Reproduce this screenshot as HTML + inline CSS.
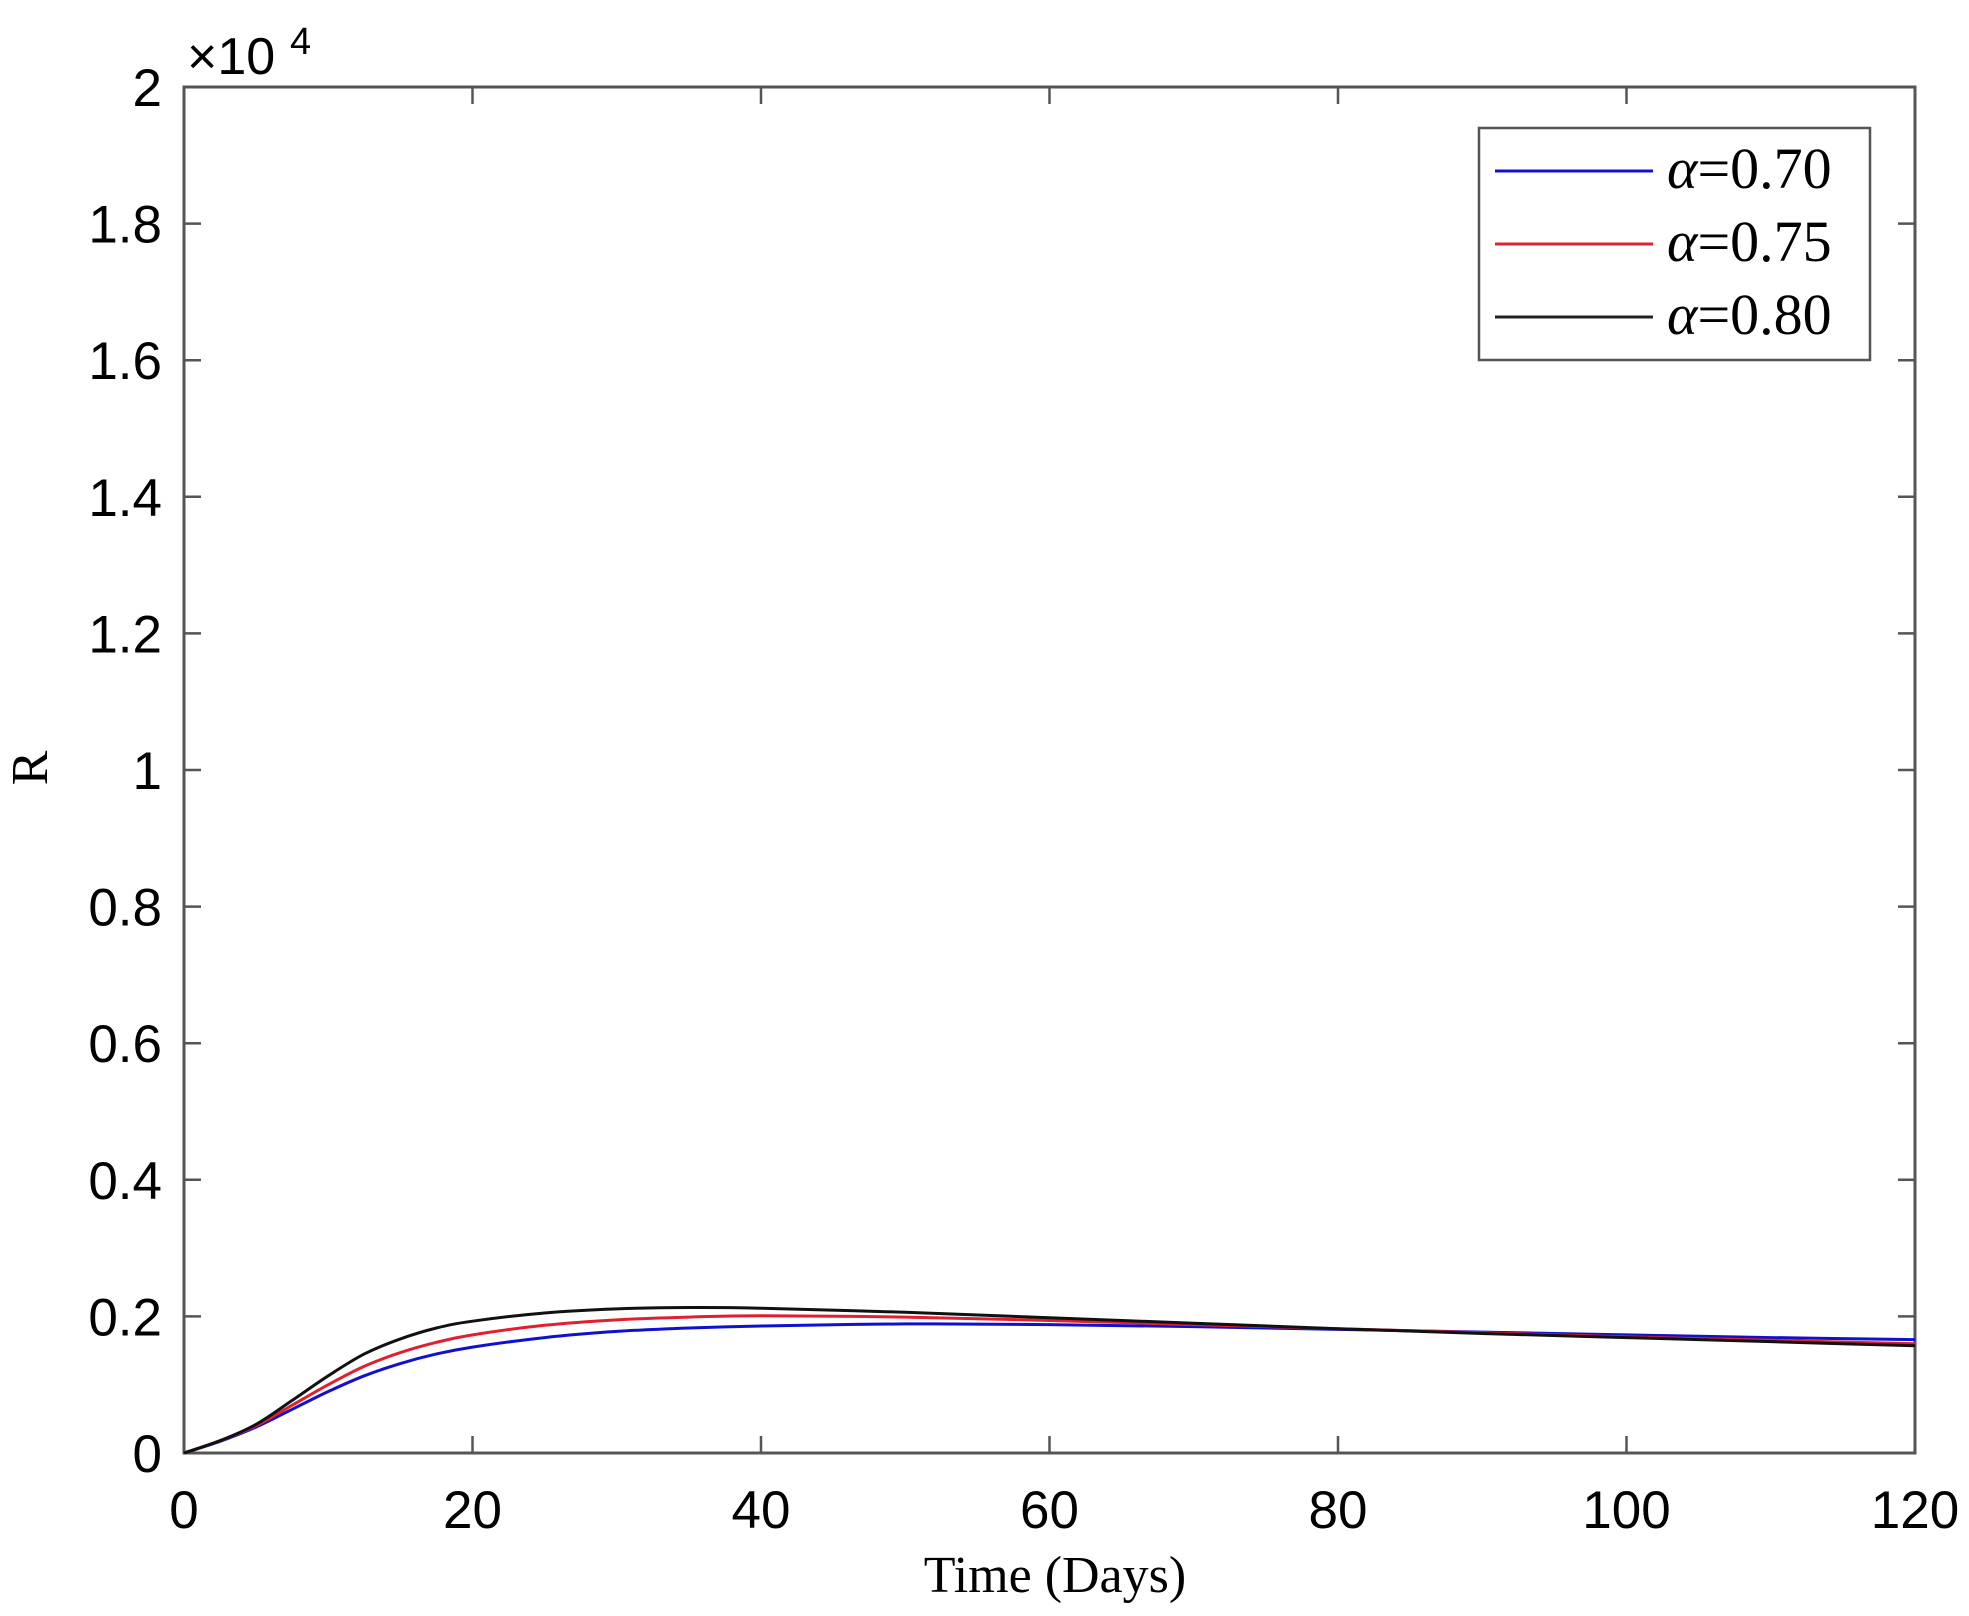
<!DOCTYPE html>
<html><head><meta charset="utf-8"><style>
html,body{margin:0;padding:0;background:#fff;width:1969px;height:1616px;overflow:hidden}
svg text{font-family:"Liberation Sans",Arial,sans-serif}
svg text.serif{font-family:"Liberation Serif","DejaVu Serif",serif}
</style></head><body>
<svg id="s" width="1969" height="1616" xmlns="http://www.w3.org/2000/svg">
<g id="ticks" stroke="#555" stroke-width="2.5"></g>
<rect x="184" y="87" width="1731" height="1366" fill="none" stroke="#555" stroke-width="3"/>
<g id="labels" font-size="53" fill="#000"></g>
<text x="187" y="74" font-size="52">×10</text>
<text x="290" y="54" font-size="38">4</text>
<text class="serif" x="1055" y="1592" font-size="52" text-anchor="middle">Time (Days)</text>
<text class="serif" x="0" y="0" font-size="52" text-anchor="middle" transform="translate(47,768) rotate(-90)">R</text>
<g id="curves" fill="none" stroke-width="3"></g>
<rect x="1479" y="128" width="391" height="232" fill="#fff" stroke="#555" stroke-width="2.5"/>
<line x1="1495" y1="171" x2="1653" y2="171" stroke="#1010d0" stroke-width="3"/>
<line x1="1495" y1="244" x2="1653" y2="244" stroke="#e02030" stroke-width="3"/>
<line x1="1495" y1="317" x2="1653" y2="317" stroke="#222" stroke-width="3"/>
<g font-size="58" fill="#000">
<text class="serif" x="1667" y="188"><tspan font-style="italic">α</tspan>=0.70</text>
<text class="serif" x="1667" y="261"><tspan font-style="italic">α</tspan>=0.75</text>
<text class="serif" x="1667" y="334"><tspan font-style="italic">α</tspan>=0.80</text>
</g>
</svg>
<script>
const L=184,R=1915,T=87,B=1453;
const X=t=>L+(R-L)*t/120, Y=v=>B-(B-T)*v/2;
const ns="http://www.w3.org/2000/svg";
const tk=document.getElementById('ticks'), lb=document.getElementById('labels');
function el(p,n,a,txt){const e=document.createElementNS(ns,n);for(const k in a)e.setAttribute(k,a[k]);if(txt!==undefined)e.textContent=txt;p.appendChild(e);return e;}
for(let i=0;i<=6;i++){const x=X(i*20);
 el(tk,'line',{x1:x,y1:B,x2:x,y2:B-17});el(tk,'line',{x1:x,y1:T,x2:x,y2:T+17});
 el(lb,'text',{x:x,y:1528,'text-anchor':'middle'},String(i*20));}
const yl=['0','0.2','0.4','0.6','0.8','1','1.2','1.4','1.6','1.8','2'];
for(let i=0;i<=10;i++){const y=Y(i*0.2);
 el(tk,'line',{x1:L,y1:y,x2:L+17,y2:y});el(tk,'line',{x1:R,y1:y,x2:R-17,y2:y});
 el(lb,'text',{x:162,y:y+19,'text-anchor':'end'},yl[i]);}
const data={
'#1010d0':[[0,0],[2.5,.017],[5,.038],[7.5,.064],[10,.09],[12.5,.113],[15,.131],[17.5,.145],[20,.155],[25,.169],[30,.178],[35,.183],[40,.186],[50,.189],[60,.188],[70,.185],[80,.181],[90,.177],[100,.173],[110,.169],[120,.166]],
'#e02030':[[0,0],[2.5,.018],[5,.04],[7.5,.07],[10,.1],[12.5,.127],[15,.147],[17.5,.162],[20,.173],[25,.187],[30,.195],[35,.199],[40,.201],[50,.199],[60,.194],[70,.188],[80,.182],[90,.176],[100,.17],[110,.165],[120,.16]],
'#111':[[0,0],[2.5,.018],[5,.042],[7.5,.077],[10,.113],[12.5,.145],[15,.167],[17.5,.183],[20,.193],[25,.205],[30,.211],[35,.213],[40,.212],[50,.206],[60,.198],[70,.19],[80,.182],[90,.175],[100,.169],[110,.163],[120,.157]]};
const cv=document.getElementById('curves');
for(const c in data){const p=data[c].map(([t,v])=>[X(t),Y(v)]);
 let d='M'+p[0][0]+','+p[0][1];
 for(let i=0;i<p.length-1;i++){const p0=p[i-1]||p[i],p1=p[i],p2=p[i+1],p3=p[i+2]||p2;
  const c1=[p1[0]+(p2[0]-p0[0])/6,p1[1]+(p2[1]-p0[1])/6],c2=[p2[0]-(p3[0]-p1[0])/6,p2[1]-(p3[1]-p1[1])/6];
  d+=` C${c1[0]},${c1[1]} ${c2[0]},${c2[1]} ${p2[0]},${p2[1]}`;}
 el(cv,'path',{d:d,stroke:c});}
</script>
</body></html>
